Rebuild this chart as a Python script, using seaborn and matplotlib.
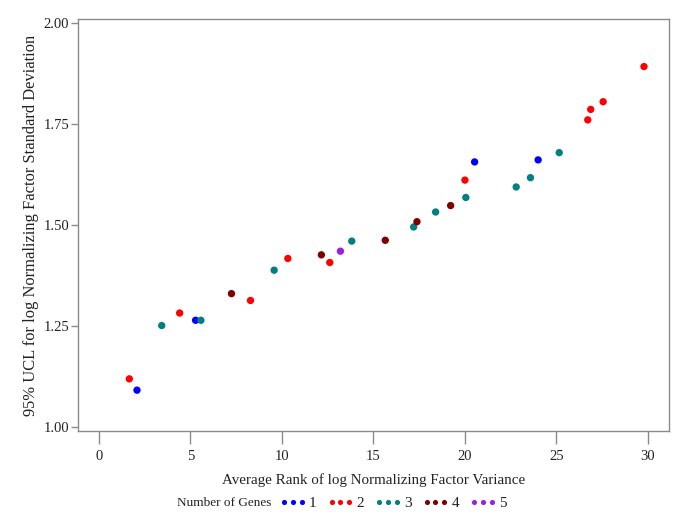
import seaborn as sns
import matplotlib.pyplot as plt
import pandas as pd

# average rank of log normalizing factor variance, by number of genes
rank_1 = [2.09, 5.29, 20.53, 24.0]
ucl_1 = [1.092, 1.265, 1.657, 1.662]

rank_2 = [1.67, 4.42, 8.29, 10.33, 12.62, 20.0, 26.71, 26.87, 27.55, 29.78]
ucl_2 = [1.120, 1.283, 1.314, 1.418, 1.408, 1.612, 1.761, 1.787, 1.806, 1.893]

rank_3 = [3.44, 5.58, 9.58, 13.82, 17.2, 18.4, 20.05, 22.8, 23.58, 25.15]
ucl_3 = [1.252, 1.265, 1.389, 1.461, 1.496, 1.533, 1.569, 1.595, 1.618, 1.680]

rank_4 = [7.25, 12.16, 15.65, 17.38, 19.22]
ucl_4 = [1.331, 1.427, 1.463, 1.509, 1.549]

rank_5 = [13.2]
ucl_5 = [1.436]

genes = ['1', '2', '3', '4', '5']
colors = ['#0000ff', '#ff0000', '#008080', '#800000', '#9b1fe0']

df = pd.concat([
    pd.DataFrame({'rank': r, 'ucl': u, 'genes': g})
    for r, u, g in zip([rank_1, rank_2, rank_3, rank_4, rank_5],
                       [ucl_1, ucl_2, ucl_3, ucl_4, ucl_5], genes)
])

sns.set_theme(style="white")
plt.rcParams['font.family'] = ['Liberation Serif', 'DejaVu Serif']

fig = plt.figure(figsize=(6.85, 5.29), dpi=100)
ax = fig.add_axes([0.1134, 0.1853, 0.8628, 0.7782])

sns.scatterplot(data=df, x='rank', y='ucl', hue='genes', hue_order=genes,
                palette=colors, s=28, linewidth=0, ax=ax, legend=False)

ax.set_xlim(-1.15, 31.13)
ax.set_ylim(0.991, 2.010)
ax.set_xticks([0, 5, 10, 15, 20, 25, 30])
ax.set_yticks([1.0, 1.25, 1.5, 1.75, 2.0])
ax.set_yticklabels(['1.00', '1.25', '1.50', '1.75', '2.00'])

for sp in ax.spines.values():
    sp.set_color('#8a8a8a')
    sp.set_linewidth(1)
ax.tick_params(axis='x', direction='out', length=9, width=1, color='#8a8a8a',
               labelsize=10.5, labelcolor='#222222', bottom=True, pad=5)
ax.tick_params(axis='y', direction='out', length=5, width=1, color='#8a8a8a',
               labelsize=10.5, labelcolor='#222222', left=True, pad=1)

ax.set_xlabel('Average Rank of log Normalizing Factor Variance', fontsize=10.8,
              color='#222222', labelpad=7)
ax.set_ylabel('95% UCL for log Normalizing Factor Standard Deviation', fontsize=11.9,
              color='#222222', labelpad=3)

handles = [plt.Line2D([], [], linestyle='', marker='o', markersize=3.7,
                      markerfacecolor=c, markeredgewidth=0) for c in colors]
fig.text(0.258, 0.049, 'Number of Genes', fontsize=9.5, color='#222222',
         va='center', ha='left')
fig.legend(handles, genes, loc='center left', bbox_to_anchor=(0.408, 0.049),
           ncol=5, frameon=False, numpoints=3, handlelength=1.75,
           handletextpad=0.17, columnspacing=0.69, fontsize=11,
           labelcolor='#222222', borderaxespad=0, borderpad=0)

plt.savefig('out.png', dpi=100)
